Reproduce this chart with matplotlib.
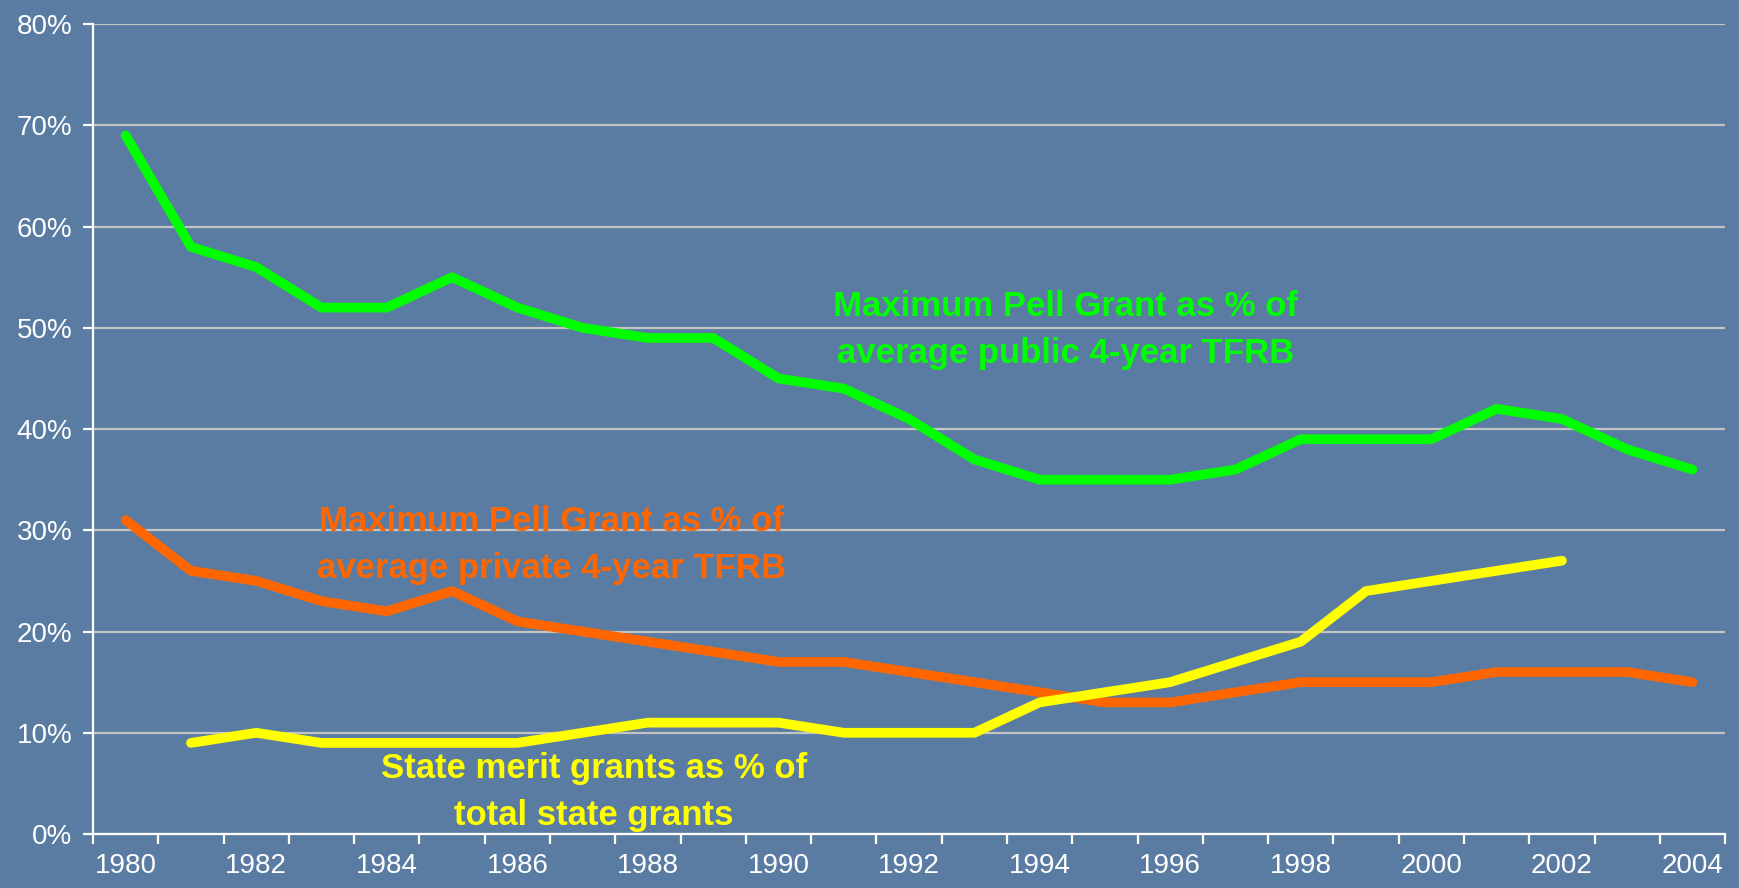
import matplotlib.pyplot as plt
import numpy as np

years = list(range(1980, 2005))
public_pct = [69, 58, 56, 52, 52, 55, 52, 50, 49, 49, 45, 44, 41, 37, 35,
              35, 35, 36, 39, 39, 39, 42, 41, 38, 36]
private_pct = [31, 26, 25, 23, 22, 24, 21, 20, 19, 18, 17, 17, 16, 15, 14,
               13, 13, 14, 15, 15, 15, 16, 16, 16, 15]
merit_years = list(range(1981, 2003))
merit_pct = [9, 10, 9, 9, 9, 9, 10, 11, 11, 11, 10, 10, 10, 13, 14,
             15, 17, 19, 24, 25, 26, 27]
year_labels = [str(y) for y in range(1980, 2005, 2)]

bg = "#5a7ca2"
fig = plt.figure(figsize=(17.39, 8.88), dpi=100, facecolor=bg)
ax = fig.add_axes([0.0535, 0.0608, 0.9385, 0.912])
ax.set_facecolor(bg)

x_all = np.arange(len(years))
x_merit = np.array([years.index(y) for y in merit_years])

kw = dict(lw=7, solid_capstyle="round", solid_joinstyle="round", zorder=3)
ax.plot(x_all, public_pct, color="#00ff00", **kw)
ax.plot(x_all, private_pct, color="#ff6600", **kw)
ax.plot(x_merit, merit_pct, color="#ffff00", **kw)

ax.set_xlim(-0.5, len(years) - 0.5)
ax.set_ylim(0, 80)
ax.set_yticks(range(0, 81, 10))
ax.set_yticklabels([f"{v}%" for v in range(0, 81, 10)])
ax.set_xticks(x_all[::2])
ax.set_xticklabels(year_labels)
ax.set_xticks(np.arange(-0.5, len(years)), minor=True)

ax.grid(axis="y", color="#c4c4c4", lw=1.6, zorder=1)
for s in ["top", "right"]:
    ax.spines[s].set_visible(False)
for s in ["left", "bottom"]:
    ax.spines[s].set_color("white")
    ax.spines[s].set_linewidth(1.6)

ax.tick_params(axis="x", which="major", length=0, pad=14, colors="white",
               labelsize=20)
ax.tick_params(axis="x", which="minor", length=7, width=1.6, color="white")
ax.tick_params(axis="y", length=7, width=1.6, color="white", labelcolor="white",
               labelsize=20, pad=8)
for lab in ax.get_xticklabels() + ax.get_yticklabels():
    lab.set_family(["Liberation Sans", "DejaVu Sans"])

tfont = dict(family=["Liberation Sans", "DejaVu Sans"],
             fontweight="bold", fontsize=25, ha="center", va="center",
             multialignment="center", linespacing=1.55, zorder=4)
ax.text(14.4, 49.8, "Maximum Pell Grant as % of\naverage public 4-year TFRB",
        color="#00ff00", **tfont)
ax.text(6.52, 28.55, "Maximum Pell Grant as % of\naverage private 4-year TFRB",
        color="#ff6600", **tfont)
ax.text(7.17, 4.15, "State merit grants as % of\ntotal state grants",
        color="#ffff00", **tfont)

fig.savefig("out.png", dpi=100, facecolor=bg)
plt.close()
